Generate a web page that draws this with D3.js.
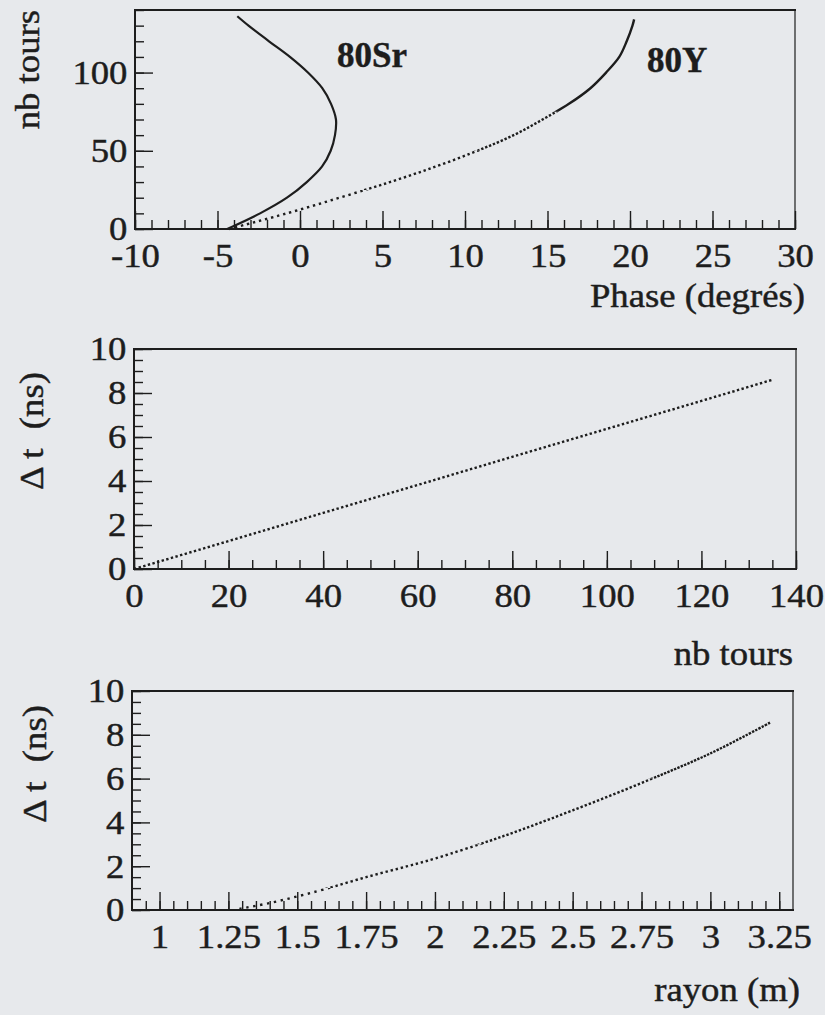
<!DOCTYPE html>
<html>
<head>
<meta charset="utf-8">
<script src="https://cdn.jsdelivr.net/npm/d3@7"></script>
<style>
body { margin: 0; background: #e7e9ec; }
svg { display: block; }
text { font-family: "Liberation Serif", "Times New Roman", serif; fill: #1d1d1d; stroke: #1d1d1d; stroke-width: 0.45px; }
</style>
</head>
<body>
<svg id="fig" width="825" height="1015"></svg>
<script>
// panel 1 : nb tours against phase, for 80Sr and 80Y
var srTours = [0, 10, 20, 30, 40, 50, 60, 70, 80, 90, 100, 110, 120, 130, 136];
var srPhase = [-4.41, -2.42, -0.79, 0.41, 1.34, 1.86, 2.12, 2.18, 1.88, 1.35, 0.48, -0.61, -1.88, -3.12, -3.8];
var yTours  = [0, 10, 20, 30, 40, 50, 60, 70, 80, 90, 100, 110, 120, 130, 134];
var yPhase  = [-4.3, -0.8, 2.4, 5.45, 8.25, 10.75, 12.95, 14.7, 16.3, 17.6, 18.55, 19.35, 19.8, 20.15, 20.25];

// panel 2 : delta t against nb tours
var dtTours = [0, 20, 40, 60, 80, 100, 120, 135];
var dtNs    = [0, 1.27, 2.55, 3.82, 5.1, 6.37, 7.64, 8.6];

// panel 3 : delta t against rayon
var rayonM  = [1.29, 1.4, 1.5, 1.6, 1.75, 1.9, 2.0, 2.25, 2.5, 2.75, 3.0, 3.22];
var dtRayon = [0.05, 0.32, 0.62, 0.95, 1.5, 2.0, 2.35, 3.38, 4.55, 5.8, 7.15, 8.58];

// tick labels
var phaseTicks = [-10, -5, 0, 5, 10, 15, 20, 25, 30];
var toursTicks = [0, 50, 100];
var nbTicks    = [0, 20, 40, 60, 80, 100, 120, 140];
var nsTicks    = [0, 2, 4, 6, 8, 10];
var rayonTicks = [1, 1.25, 1.5, 1.75, 2, 2.25, 2.5, 2.75, 3, 3.25];

var ink = "#1d1d1d";
var stretch = "scale(1.08,1)";   // the scanned lettering is a little wide
var svg = d3.select("#fig");

function zip(a, b) {
    return a.map(function(v, i) { return [v, b[i]]; });
}

function drawFrame(g, x, y, xMajor, xMinor, yMajor, yMinor, fmt) {
    var x0 = x.range()[0], x1 = x.range()[1];
    var y0 = y.range()[0], y1 = y.range()[1];

    function style(a) {
        a.select(".domain").remove();
        a.attr("font-size", 34).attr("font-family", null).style("color", ink);
        a.selectAll("line").attr("stroke-width", 1.4);
        a.selectAll("text").attr("transform", stretch);
    }

    g.append("g").attr("transform", "translate(0," + y0 + ")")
        .call(d3.axisBottom(x).tickValues(xMinor).tickSize(-9).tickFormat(""))
        .call(style);
    g.append("g").attr("transform", "translate(0," + y0 + ")")
        .call(d3.axisBottom(x).tickValues(xMajor).tickSize(-18).tickPadding(14).tickFormat(fmt || String))
        .call(style);
    g.append("g").attr("transform", "translate(" + x0 + ",0)")
        .call(d3.axisLeft(y).tickValues(yMinor).tickSize(-9).tickFormat(""))
        .call(style);
    g.append("g").attr("transform", "translate(" + x0 + ",0)")
        .call(d3.axisLeft(y).tickValues(yMajor).tickSize(-18).tickPadding(7).tickFormat(String))
        .call(style);

    var frame = [
        [x0, y1, x1, y1, 2],
        [x1, y1, x1, y0, 1.2],
        [x0, y0, x1, y0, 2],
        [x0, y1, x0, y0, 2]
    ];
    g.selectAll("line.frame").data(frame).enter().append("line")
        .attr("class", "frame")
        .attr("x1", function(d) { return d[0]; })
        .attr("y1", function(d) { return d[1]; })
        .attr("x2", function(d) { return d[2]; })
        .attr("y2", function(d) { return d[3]; })
        .attr("stroke", ink)
        .attr("stroke-width", function(d) { return d[4]; })
        .attr("stroke-linecap", "square");
}

// draw one path several times, each piece clipped to a band of the y axis
var clipId = 0;
function bandedPath(g, d, x, y, bands) {
    bands.forEach(function(b) {
        var id = "band" + (clipId++);
        g.append("clipPath").attr("id", id)
            .append("rect")
            .attr("x", x.range()[0] - 5)
            .attr("width", x.range()[1] - x.range()[0] + 10)
            .attr("y", y(b[1]))
            .attr("height", y(b[0]) - y(b[1]));
        g.append("path")
            .attr("d", d)
            .attr("clip-path", "url(#" + id + ")")
            .attr("fill", "none")
            .attr("stroke", ink)
            .attr("stroke-width", 2.4)
            .attr("stroke-dasharray", b[2]);
    });
}

function title(g, x, y, txt) {
    g.append("text").attr("transform", "translate(" + x + "," + y + ") " + stretch)
        .attr("font-size", 34).attr("text-anchor", "end").text(txt);
}

function deltaLabel(g, tx, ty) {
    var t = g.append("text")
        .attr("transform", "translate(" + tx + "," + ty + ") rotate(-90) " + stretch)
        .attr("font-size", 34);
    t.append("tspan").text("Δ");
    t.append("tspan").attr("dx", 7).text("t");
    t.append("tspan").attr("dx", 18).text("(ns)");
}

// ---------- panel 1
var x1 = d3.scaleLinear().domain([-10, 30]).range([135, 795]);
var y1 = d3.scaleLinear().domain([0, 140]).range([229, 10]);
var p1 = svg.append("g");
drawFrame(p1, x1, y1, phaseTicks, d3.range(-10, 31, 1), toursTicks, d3.range(0, 141, 10));

var line1 = d3.line()
    .x(function(d) { return x1(d[1]); })
    .y(function(d) { return y1(d[0]); })
    .curve(d3.curveCatmullRom);

p1.append("path")
    .attr("d", line1(zip(srTours, srPhase)))
    .attr("fill", "none")
    .attr("stroke", ink)
    .attr("stroke-width", 2.2);

bandedPath(p1, line1(zip(yTours, yPhase)), x1, y1, [
    [-2, 25, "2.4 3.8"],
    [25, 50, "2.4 2.8"],
    [50, 75, "2.4 1.8"],
    [75, 145, "none"]
]);

p1.append("text").attr("x", 337).attr("y", 67)
    .attr("font-size", 35).attr("font-weight", "bold").text("80Sr");
p1.append("text").attr("x", 647).attr("y", 72)
    .attr("font-size", 35).attr("font-weight", "bold").text("80Y");
title(p1, 805, 307, "Phase (degrés)");
p1.append("text").attr("transform", "translate(39,10) rotate(-90) " + stretch)
    .attr("font-size", 34).attr("text-anchor", "end").text("nb tours");

// ---------- panel 2
var x2 = d3.scaleLinear().domain([0, 140]).range([134, 796]);
var y2 = d3.scaleLinear().domain([0, 10]).range([569, 349]);
var p2 = svg.append("g");
drawFrame(p2, x2, y2, nbTicks, d3.range(0, 141, 5), nsTicks, d3.range(0, 10.01, 0.5));

var line2 = d3.line()
    .x(function(d) { return x2(d[0]); })
    .y(function(d) { return y2(d[1]); });
p2.append("path")
    .attr("d", line2(zip(dtTours, dtNs)))
    .attr("fill", "none")
    .attr("stroke", ink)
    .attr("stroke-width", 2.4)
    .attr("stroke-dasharray", "2.4 2.4");

title(p2, 793, 665, "nb tours");
deltaLabel(p2, 43, 490);

// ---------- panel 3
var x3 = d3.scaleLinear().domain([0.9, 3.3]).range([132, 793]);
var y3 = d3.scaleLinear().domain([0, 10]).range([910, 691]);
var p3 = svg.append("g");
drawFrame(p3, x3, y3, rayonTicks, d3.range(0.95, 3.27, 0.05), nsTicks, d3.range(0, 10.01, 0.5));

var line3 = d3.line()
    .x(function(d) { return x3(d[0]); })
    .y(function(d) { return y3(d[1]); })
    .curve(d3.curveCatmullRom);

bandedPath(p3, line3(zip(rayonM, dtRayon)), x3, y3, [
    [-0.5, 1, "2.4 4.6"],
    [1, 3, "2.4 2.8"],
    [3, 6, "2.4 2"],
    [6, 10, "2.4 1.2"]
]);

title(p3, 800, 1001, "rayon (m)");
deltaLabel(p3, 46, 823);
</script>
</body>
</html>
